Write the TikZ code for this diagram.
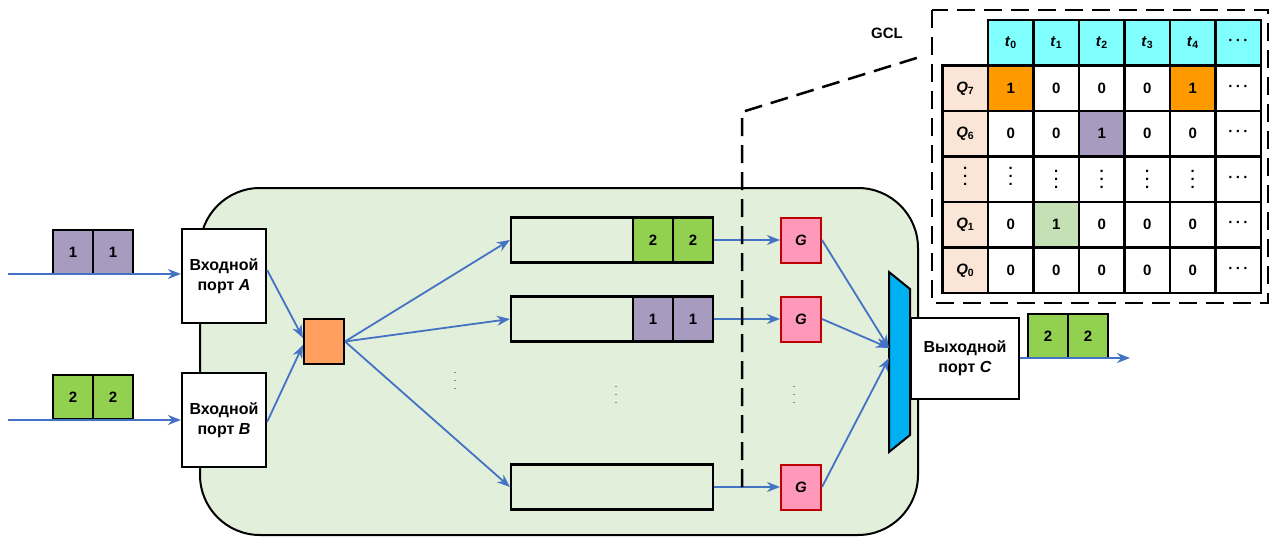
\documentclass[tikz,border=0pt]{standalone}
\usepackage{fontspec}
\setmainfont{Liberation Sans}
\usetikzlibrary{arrows.meta}

\definecolor{bggreen}{RGB}{226,239,218}
\definecolor{pktpurple}{RGB}{168,155,192}
\definecolor{pktgreen}{RGB}{146,208,80}
\definecolor{fabric}{RGB}{255,160,96}
\definecolor{gatepink}{RGB}{255,153,187}
\definecolor{gatered}{RGB}{192,0,0}
\definecolor{muxblue}{RGB}{0,176,240}
\definecolor{linkblue}{RGB}{68,114,196}
\definecolor{hdrcyan}{RGB}{128,255,255}
\definecolor{qpeach}{RGB}{251,229,214}
\definecolor{onorange}{RGB}{255,153,0}
\definecolor{onpurple}{RGB}{168,155,192}
\definecolor{ongreen}{RGB}{197,224,180}

% dots used in the GCL table and between the queues
\newcommand\gclvdots{\vbox{\baselineskip=8pt\lineskiplimit=0pt\hbox{.}\hbox{.}\hbox{.}}}
\newcommand\gclhdots{·\,·\,·}

\begin{document}
\begin{tikzpicture}[x=1pt,y=-1pt,
 font=\bfseries\fontsize{15}{18}\selectfont,
 port/.style={draw,line width=2.2pt,fill=white,align=center,inner sep=0pt,font=\bfseries\fontsize{16}{20}\selectfont},
 pkt/.style={draw,line width=2.2pt,minimum width=40pt,minimum height=44pt,inner sep=0pt},
 queue/.style={draw,line width=2.2pt,fill=bggreen,minimum width=202pt,minimum height=45pt,inner sep=0pt},
 gate/.style={draw=gatered,line width=2pt,fill=gatepink,minimum width=40pt,minimum height=45pt,inner sep=0pt},
 cell/.style={draw,line width=2.6pt,fill=white,minimum width=45.5pt,minimum height=45.5pt,inner sep=0pt},
 link/.style={color=linkblue,line width=1.8pt,-{Stealth[length=13pt,width=10pt]}},
 gcl/.style={line width=2.5pt,dash pattern=on 18pt off 9pt},
 dotsmall/.style={font=\normalfont\fontsize{9}{11}\selectfont,inner sep=0pt}]

 \path[use as bounding box,fill=white] (0,0) rectangle (1269,538);

 % switch body
 \draw[line width=2pt,fill=bggreen,rounded corners=60pt] (200,188) rectangle (918,535);

 % input ports
 \node[port,minimum width=84pt,minimum height=94pt] (portA) at (224,276) {Входной\\порт \textit{A}};
 \node[port,minimum width=84pt,minimum height=94pt] (portB) at (224,420) {Входной\\порт \textit{B}};

 % incoming frames
 \node[pkt,fill=pktpurple] (inA1) at (73,252) {1};
 \node[pkt,fill=pktpurple] (inA2) at (113,252) {1};
 \node[pkt,fill=pktgreen] (inB1) at (73,397) {2};
 \node[pkt,fill=pktgreen] (inB2) at (113,397) {2};
 \coordinate (srcA) at (8,274);
 \coordinate (srcB) at (8,420);

 % switching fabric
 \node[draw,line width=2pt,fill=fabric,minimum width=40pt,minimum height=45pt] (fab) at (324,341.5) {};

 % queues
 \node[queue] (q1) at (612,240) {};
 \node[queue] (q2) at (612,319) {};
 \node[queue] (q3) at (612,487) {};
 \node[pkt,fill=pktgreen,minimum height=45pt] (q1a) at (653,240) {2};
 \node[pkt,fill=pktgreen,minimum height=45pt] (q1b) at (693,240) {2};
 \node[pkt,fill=pktpurple,minimum height=45pt] (q2a) at (653,319) {1};
 \node[pkt,fill=pktpurple,minimum height=45pt] (q2b) at (693,319) {1};

 % gates
 \node[gate] (g1) at (801,240) {\textit{G}};
 \node[gate] (g2) at (801,319) {\textit{G}};
 \node[gate] (g3) at (801,487) {\textit{G}};

 \node[dotsmall] (vd1) at (455,381) {\gclvdots};
 \node[dotsmall] (vd2) at (616,395) {\gclvdots};
 \node[dotsmall] (vd3) at (794,395) {\gclvdots};

 % multiplexer
 \draw[line width=2pt,fill=muxblue] (889,272) -- (910,289) -- (910,435) -- (889,452) -- cycle;
 \coordinate (muxA) at (889,348);
 \coordinate (muxB) at (889,358);

 % output port
 \node[port,minimum width=108pt,minimum height=81pt] (portC) at (965,358.5) {Выходной\\порт \textit{C}};
 \node[pkt,fill=pktgreen] (out1) at (1048,336) {2};
 \node[pkt,fill=pktgreen] (out2) at (1088,336) {2};
 \coordinate (dst) at (1130,358);

 \path[link]
 (srcA) edge (srcA -| portA.west)
 (srcB) edge (srcB -| portB.west)
 ([yshift=6pt]portA.east) edge ([yshift=3.5pt]fab.west)
 ([yshift=-2pt]portB.east) edge ([yshift=-3.5pt]fab.west)
 (fab.east) edge (q1.west)
 (fab.east) edge (q2.west)
 (fab.east) edge (q3.west)
 (q1.east) edge (g1.west)
 (q2.east) edge (g2.west)
 (q3.east) edge (g3.west)
 (g1.east) edge (muxA)
 (g2.east) edge (muxA)
 (g3.east) edge (muxB)
 (dst -| portC.east) edge (dst);

 % gate control list
 \coordinate (tapA) at (742,487);
 \coordinate (tapB) at (742,112);
 \coordinate (tapC) at (923,56);
 \draw[gcl] (tapA) -- (tapB) -- (tapC);
 \draw[gcl] (932,10) rectangle (1268,303);
 \node (gclname) at (887,33) {GCL};

 \foreach \c/\t in {1/0,2/1,3/2,4/3,5/4}
  \node[cell,fill=hdrcyan] (t-\c) at ({942.5+45.5*(\c+0.5)},42.75) {\textit{t}\textsubscript{\t}};
 \node[cell,fill=hdrcyan] (t-6) at ({942.5+45.5*6.5},42.75) {\gclhdots};

 \foreach \r/\q/\a/\b/\cc/\d/\e in {1/7/1/0/0/0/1, 2/6/0/0/1/0/0, 4/1/0/1/0/0/0, 5/0/0/0/0/0/0} {
  \node[cell,fill=qpeach] (h-\r) at (965.25,{20+45.5*(\r+0.5)}) {\textit{Q}\textsubscript{\q}};
  \node[cell] (c-\r-1) at ({942.5+45.5*1.5},{20+45.5*(\r+0.5)}) {\a};
  \node[cell] (c-\r-2) at ({942.5+45.5*2.5},{20+45.5*(\r+0.5)}) {\b};
  \node[cell] (c-\r-3) at ({942.5+45.5*3.5},{20+45.5*(\r+0.5)}) {\cc};
  \node[cell] (c-\r-4) at ({942.5+45.5*4.5},{20+45.5*(\r+0.5)}) {\d};
  \node[cell] (c-\r-5) at ({942.5+45.5*5.5},{20+45.5*(\r+0.5)}) {\e};
  \node[cell] (c-\r-6) at ({942.5+45.5*6.5},{20+45.5*(\r+0.5)}) {\gclhdots};
 }
 \node[cell,fill=qpeach] (h-3) at (965.25,{20+45.5*3.5}) {\raisebox{5pt}{\gclvdots}};
 \node[cell] (c-3-1) at ({942.5+45.5*1.5},{20+45.5*3.5}) {\raisebox{5pt}{\gclvdots}};
 \foreach \c in {2,...,5}
  \node[cell] (c-3-\c) at ({942.5+45.5*(\c+0.5)},{20+45.5*3.5}) {\raisebox{-4pt}{\gclvdots}};
 \node[cell] (c-3-6) at ({942.5+45.5*6.5},{20+45.5*3.5}) {\gclhdots};

 % open slots
 \node[cell,fill=onorange] at (c-1-1) {1};
 \node[cell,fill=onorange] at (c-1-5) {1};
 \node[cell,fill=onpurple] at (c-2-3) {1};
 \node[cell,fill=ongreen] at (c-4-2) {1};
\end{tikzpicture}
\end{document}
